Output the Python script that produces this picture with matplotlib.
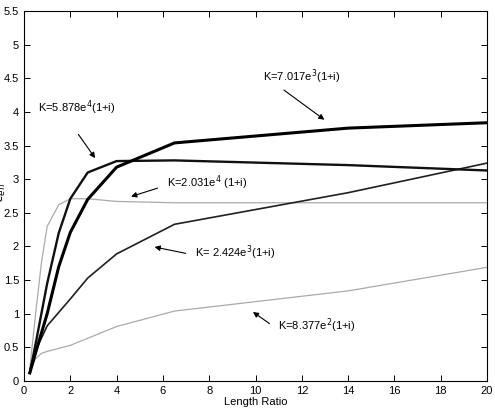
import matplotlib
matplotlib.use("Agg")
import matplotlib.pyplot as plt

plt.rcParams["font.family"] = ["Liberation Sans", "DejaVu Sans"]

# Length ratio sample points per curve
x_7017e3 = [0.25, 0.5, 1.0, 1.5, 2.0, 2.75, 4.0, 6.5, 14.0, 20.0]
y_7017e3 = [0.12, 0.42, 1.0, 1.7, 2.21, 2.70, 3.18, 3.54, 3.76, 3.84]

x_5878e4 = [0.25, 0.5, 1.0, 1.5, 2.0, 2.75, 4.0, 6.5, 14.0, 20.0]
y_5878e4 = [0.12, 0.55, 1.45, 2.2, 2.71, 3.10, 3.27, 3.28, 3.21, 3.13]

x_2031e4 = [0.25, 0.5, 0.75, 1.0, 1.5, 2.0, 2.75, 4.0, 6.5, 14.0, 20.0]
y_2031e4 = [0.18, 1.0, 1.75, 2.3, 2.62, 2.71, 2.71, 2.67, 2.65, 2.65, 2.65]

x_2424e3 = [0.25, 0.5, 1.0, 2.0, 2.75, 4.0, 6.5, 14.0, 20.0]
y_2424e3 = [0.15, 0.45, 0.82, 1.22, 1.53, 1.89, 2.33, 2.80, 3.24]

x_8377e2 = [0.25, 0.5, 0.75, 1.0, 2.0, 4.0, 6.5, 14.0, 20.0]
y_8377e2 = [0.15, 0.33, 0.41, 0.44, 0.53, 0.81, 1.04, 1.34, 1.69]

fig = plt.figure(figsize=(4.95, 4.11), dpi=100)
ax = fig.add_axes([0.0485, 0.073, 0.9355, 0.9])

ax.plot(x_8377e2, y_8377e2, color="#aaaaaa", linewidth=0.9)
ax.plot(x_2031e4, y_2031e4, color="#aaaaaa", linewidth=0.9)
ax.plot(x_2424e3, y_2424e3, color="#202020", linewidth=1.2)
ax.plot(x_5878e4, y_5878e4, color="#101010", linewidth=1.7)
ax.plot(x_7017e3, y_7017e3, color="#000000", linewidth=2.2)

arrow = dict(arrowstyle="-|>", color="black", linewidth=0.8, mutation_scale=8)
fs = 8
ax.annotate("", xy=(13.07, 3.86), xytext=(11.13, 4.35), arrowprops=arrow)
ax.text(10.32, 4.52, r"K=7.017e$^3$(1+i)", fontsize=fs, va="center")
ax.annotate("", xy=(3.14, 3.28), xytext=(2.28, 3.70), arrowprops=arrow)
ax.text(0.6, 4.06, r"K=5.878e$^4$(1+i)", fontsize=fs, va="center")
ax.annotate("", xy=(4.51, 2.73), xytext=(5.88, 2.88), arrowprops=arrow)
ax.text(6.16, 2.95, r"K=2.031e$^4$ (1+i)", fontsize=fs, va="center")
ax.annotate("", xy=(5.52, 2.0), xytext=(7.10, 1.89), arrowprops=arrow)
ax.text(7.39, 1.91, r"K= 2.424e$^3$(1+i)", fontsize=fs, va="center")
ax.annotate("", xy=(9.79, 1.05), xytext=(10.7, 0.83), arrowprops=arrow)
ax.text(10.99, 0.82, r"K=8.377e$^2$(1+i)", fontsize=fs, va="center")

ax.set_xlim(0, 20)
ax.set_ylim(0, 5.5)
ax.set_xticks(range(0, 21, 2))
ax.set_yticks([i * 0.5 for i in range(12)])
ax.set_yticklabels(["0", "0.5", "1", "1.5", "2", "2.5", "3", "3.5", "4", "4.5", "5", "5.5"])
ax.tick_params(direction="in", top=True, right=True, labelsize=8, length=4, width=0.7)
for s in ax.spines.values():
    s.set_linewidth(0.8)
ax.set_xlabel("Length Ratio", fontsize=8, labelpad=1)
fig.text(-0.011, 0.535, r"$\epsilon_{eff}$", rotation=90, fontsize=9, va="center")

fig.savefig("out.png", dpi=100)
